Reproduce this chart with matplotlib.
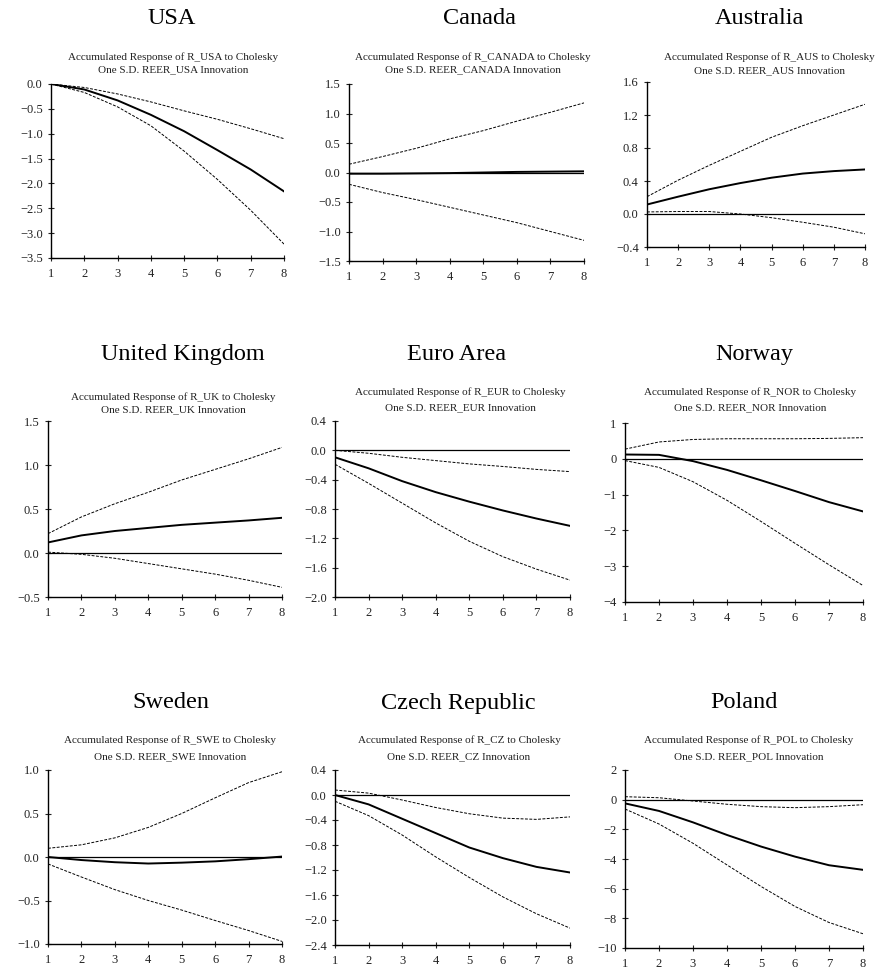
import numpy as np
import matplotlib
matplotlib.use("Agg")
import matplotlib.pyplot as plt
from matplotlib.ticker import FuncFormatter

plt.rcParams["font.family"] = ["Liberation Serif", "DejaVu Serif"]

horizon = [1, 2, 3, 4, 5, 6, 7, 8]

countries = ["USA", "Canada", "Australia",
             "United Kingdom", "Euro Area", "Norway",
             "Sweden", "Czech Republic", "Poland"]
codes = ["USA", "CANADA", "AUS", "UK", "EUR", "NOR", "SWE", "CZ", "POL"]

# accumulated response, upper and lower bands
resp_usa = [0.0, -0.11, -0.33, -0.62, -0.95, -1.33, -1.72, -2.16]
up_usa = [0.0, -0.07, -0.20, -0.36, -0.54, -0.71, -0.90, -1.10]
lo_usa = [0.0, -0.17, -0.46, -0.84, -1.35, -1.92, -2.54, -3.22]

resp_can = [-0.02, -0.02, -0.015, -0.01, 0.0, 0.01, 0.015, 0.02]
up_can = [0.14, 0.27, 0.41, 0.57, 0.71, 0.87, 1.02, 1.18]
lo_can = [-0.20, -0.34, -0.46, -0.59, -0.72, -0.85, -1.00, -1.15]

resp_aus = [0.115, 0.21, 0.30, 0.375, 0.44, 0.49, 0.52, 0.54]
up_aus = [0.21, 0.41, 0.59, 0.76, 0.93, 1.07, 1.20, 1.33]
lo_aus = [0.025, 0.03, 0.03, 0.0, -0.045, -0.10, -0.16, -0.24]

resp_uk = [0.12, 0.20, 0.25, 0.285, 0.32, 0.345, 0.37, 0.40]
up_uk = [0.22, 0.41, 0.56, 0.69, 0.83, 0.95, 1.07, 1.20]
lo_uk = [0.01, -0.015, -0.06, -0.12, -0.18, -0.24, -0.31, -0.39]

resp_eur = [-0.095, -0.245, -0.42, -0.57, -0.70, -0.82, -0.93, -1.03]
up_eur = [0.0, -0.04, -0.095, -0.14, -0.185, -0.22, -0.26, -0.29]
lo_eur = [-0.19, -0.45, -0.72, -0.99, -1.24, -1.45, -1.62, -1.77]

resp_nor = [0.12, 0.11, -0.065, -0.31, -0.60, -0.90, -1.21, -1.47]
up_nor = [0.27, 0.47, 0.54, 0.56, 0.56, 0.56, 0.57, 0.59]
lo_nor = [-0.05, -0.24, -0.64, -1.16, -1.75, -2.36, -2.96, -3.54]

resp_swe = [0.0, -0.035, -0.06, -0.075, -0.065, -0.05, -0.025, 0.005]
up_swe = [0.10, 0.14, 0.22, 0.34, 0.50, 0.68, 0.855, 0.98]
lo_swe = [-0.08, -0.23, -0.375, -0.50, -0.61, -0.73, -0.845, -0.97]

resp_cz = [0.0, -0.15, -0.38, -0.61, -0.84, -1.01, -1.15, -1.24]
up_cz = [0.08, 0.03, -0.08, -0.20, -0.30, -0.37, -0.39, -0.35]
lo_cz = [-0.10, -0.33, -0.64, -0.99, -1.32, -1.63, -1.90, -2.13]

resp_pol = [-0.25, -0.76, -1.53, -2.38, -3.16, -3.84, -4.42, -4.73]
up_pol = [0.20, 0.13, -0.09, -0.31, -0.47, -0.54, -0.47, -0.34]
lo_pol = [-0.63, -1.64, -2.94, -4.40, -5.85, -7.20, -8.28, -9.04]

responses = [resp_usa, resp_can, resp_aus, resp_uk, resp_eur, resp_nor,
             resp_swe, resp_cz, resp_pol]
uppers = [up_usa, up_can, up_aus, up_uk, up_eur, up_nor, up_swe, up_cz, up_pol]
lowers = [lo_usa, lo_can, lo_aus, lo_uk, lo_eur, lo_nor, lo_swe, lo_cz, lo_pol]

# y axis ticks per panel
yticks = [
    [-3.5, -3.0, -2.5, -2.0, -1.5, -1.0, -0.5, 0.0],
    [-1.5, -1.0, -0.5, 0.0, 0.5, 1.0, 1.5],
    [-0.4, 0.0, 0.4, 0.8, 1.2, 1.6],
    [-0.5, 0.0, 0.5, 1.0, 1.5],
    [-2.0, -1.6, -1.2, -0.8, -0.4, 0.0, 0.4],
    [-4, -3, -2, -1, 0, 1],
    [-1.0, -0.5, 0.0, 0.5, 1.0],
    [-2.4, -2.0, -1.6, -1.2, -0.8, -0.4, 0.0, 0.4],
    [-10, -8, -6, -4, -2, 0, 2],
]
ydec = [1, 1, 1, 1, 1, 0, 1, 1, 0]
zero_line = [False, True, True, True, True, True, True, True, True]

# layout in pixels: axes (left, right, top, bottom), title (x, y), subtitle (x, y1, y2)
W, H = 892, 969
axes_px = [
    (51, 284, 84, 258), (349, 584, 84, 261), (647, 865, 82, 247),
    (48, 282, 421, 597), (335, 570, 421, 597), (625, 863, 423, 602),
    (48, 282, 770, 944), (335, 570, 770, 945), (625, 863, 770, 948),
]
title_px = [
    (172, 18), (480, 18), (759, 18),
    (183, 355), (457, 355), (754, 355),
    (171, 703), (458, 703), (744, 703),
]
sub_px = [
    (173, 57, 70), (473, 57, 70), (769, 57, 71),
    (173, 397, 410), (460, 392, 408), (750, 392, 408),
    (170, 740, 757), (459, 740, 757), (749, 740, 757),
]


def make_fmt(dec):
    def fmt(v, pos):
        v = round(v, dec)
        if v == 0:
            v = 0.0
        s = f"{v:.{dec}f}"
        return s.replace("-", "\u2212")
    return FuncFormatter(fmt)


fig = plt.figure(figsize=(W / 100, H / 100), dpi=100)

for i in range(9):
    l, r, t, b = axes_px[i]
    ax = fig.add_axes([l / W, 1 - b / H, (r - l) / W, (b - t) / H])
    ax.plot(horizon, responses[i], color="black", lw=1.4)
    ax.plot(horizon, uppers[i], color="black", lw=0.7, dashes=(3, 1.5))
    ax.plot(horizon, lowers[i], color="black", lw=0.7, dashes=(3, 1.5))
    if zero_line[i]:
        ax.axhline(0, color="black", lw=0.9)
    ax.set_xlim(1, 8)
    ax.set_xticks(horizon)
    ax.set_ylim(yticks[i][0], yticks[i][-1])
    ax.set_yticks(yticks[i])
    ax.yaxis.set_major_formatter(make_fmt(ydec[i]))
    for s in ["top", "right"]:
        ax.spines[s].set_visible(False)
    for s in ["left", "bottom"]:
        ax.spines[s].set_linewidth(1.0)
    ax.tick_params(labelsize=9, length=4, width=0.8, direction="inout",
                   colors="#222222")
    ax.tick_params(axis="x", pad=5)
    ax.tick_params(axis="y", pad=4)

    tx, ty = title_px[i]
    fig.text(tx / W, 1 - ty / H, countries[i], fontsize=17.5,
             ha="center", va="center")
    sx, sy1, sy2 = sub_px[i]
    fig.text(sx / W, 1 - sy1 / H,
             f"Accumulated Response of R_{codes[i]} to Cholesky",
             fontsize=8, ha="center", va="center", color="#222222")
    fig.text(sx / W, 1 - sy2 / H,
             f"One S.D. REER_{codes[i]} Innovation",
             fontsize=8, ha="center", va="center", color="#222222")

fig.savefig("out.png", dpi=100)
